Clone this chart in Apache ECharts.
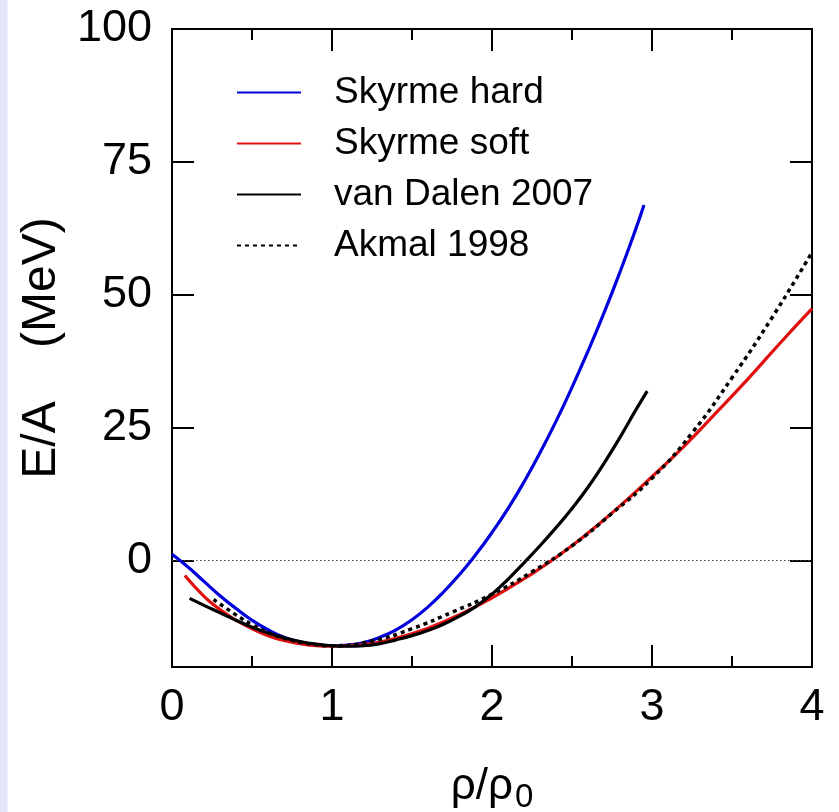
<!DOCTYPE html>
<html><head><meta charset="utf-8">
<script src="https://cdn.jsdelivr.net/npm/echarts@6/dist/echarts.min.js"></script>
<style>html,body{margin:0;padding:0;background:#fff}#c{width:839px;height:812px}</style>
</head><body><div id="c"></div>
<script>
const xTicks = [0, 1, 2, 3, 4];
const yTicks = [0, 25, 50, 75, 100];
const seriesNames = ['Skyrme hard', 'Skyrme soft', 'van Dalen 2007', 'Akmal 1998'];

const hardRho = [0,0.1,0.2,0.3,0.4,0.5,0.6,0.7,0.8,0.9,1.0,1.1,1.2,1.3,1.4,1.5,1.6,1.7,1.8,1.9,2.0,2.1,2.2,2.3,2.4,2.5,2.6,2.7,2.8,2.9,2.95];
const hardE   = [1.2,-1.2,-3.9,-6.6,-9.0,-11.2,-13.0,-14.4,-15.3,-15.8,-16.0,-15.9,-15.4,-14.4,-13.0,-11.1,-8.7,-5.8,-2.5,1.2,5.3,9.8,14.8,20.3,26.2,32.6,39.4,46.6,54.3,62.5,66.9];

const softRho = [0.08,0.2,0.3,0.4,0.5,0.6,0.7,0.8,0.9,1.0,1.2,1.4,1.6,1.8,2.0,2.2,2.4,2.6,2.8,3.0,3.2,3.4,3.6,3.8,4.0];
const softE   = [-2.8,-6.7,-9.2,-11.2,-12.8,-14.1,-15.0,-15.6,-16.0,-16.1,-15.8,-14.6,-12.7,-10.1,-7.0,-3.4,0.6,5.2,10.3,15.8,21.5,27.8,34.2,40.9,47.4];

const dalenRho = [0.11,0.2,0.3,0.4,0.5,0.6,0.7,0.8,0.9,1.0,1.1,1.2,1.3,1.4,1.5,1.6,1.7,1.8,1.9,2.0,2.1,2.2,2.3,2.4,2.5,2.6,2.7,2.8,2.9,2.97];
const dalenE   = [-7.1,-8.4,-9.8,-11.2,-12.5,-13.6,-14.5,-15.2,-15.7,-16.0,-16.1,-16.0,-15.6,-14.9,-14.1,-13.1,-11.9,-10.4,-8.6,-6.3,-3.5,-0.4,2.8,6.2,9.8,13.8,18.3,23.2,28.4,31.9];

const akmalRho = [0.26,0.4,0.5,0.6,0.75,0.9,1.0,1.25,1.5,1.75,2.0,2.25,2.5,2.75,3.0,3.25,3.5,3.75,4.0];
const akmalE   = [-7.3,-10.2,-12.0,-13.5,-15.0,-15.8,-16.0,-15.1,-12.8,-9.7,-6.3,-2.1,2.8,8.9,15.5,24.0,34.4,45.7,58.0];

function pairs(xs, ys) { return xs.map((x, i) => [x, ys[i]]); }

const FONT = '"Liberation Sans", Arial, Helvetica, sans-serif';
const chart = echarts.init(document.getElementById('c'), null, {renderer: 'canvas'});

const axisLine = {show: true, onZero: false, lineStyle: {color: '#000', width: 2}};
function xAx(pos, labels) {
  return {
    type: 'value', position: pos, min: 0, max: 4, interval: 1,
    axisLine: axisLine,
    axisTick: {show: true, inside: true, length: 22, lineStyle: {color: '#000', width: 2}},
    minorTick: {show: true, splitNumber: 2, length: 11, lineStyle: {color: '#000', width: 2}},
    splitLine: {show: false}, minorSplitLine: {show: false},
    axisLabel: {show: labels, margin: 18, fontSize: 45, color: '#000', fontFamily: FONT},
    name: labels ? '{a|ρ/ρ}{s|0}' : '',
    nameLocation: 'middle', nameGap: 92,
    nameTextStyle: {
      rich: {
        a: {fontSize: 44, fontFamily: FONT, color: '#000'},
        s: {fontSize: 33, fontFamily: FONT, color: '#000', padding: [22, 0, 0, 2]}
      }
    }
  };
}
function yAx(pos, labels) {
  return {
    type: 'value', position: pos, min: -20, max: 100,
    axisLine: axisLine,
    axisTick: {show: true, inside: true, length: 22, customValues: yTicks, lineStyle: {color: '#000', width: 2}},
    splitLine: {show: false},
    axisLabel: {show: labels, customValues: yTicks, margin: 20, fontSize: 45, color: '#000', fontFamily: FONT},
    name: labels ? 'E/A    (MeV)' : '',
    nameLocation: 'middle', nameGap: 106, nameRotate: 90,
    nameTextStyle: {fontSize: 48, fontFamily: FONT, color: '#000'}
  };
}

const lineBase = {type: 'line', smooth: true, symbol: 'none', showSymbol: false, clip: true, z: 3};

chart.setOption({
  backgroundColor: '#fff',
  animation: false,
  graphic: [{type: 'rect', left: 0, top: 0, shape: {width: 7.5, height: 812}, style: {fill: '#e6e6fa'}, silent: true}],
  grid: {left: 172, right: 27, top: 29, bottom: 145, containLabel: false, outerBoundsMode: 'none'},
  legend: {
    left: 236, top: 74, orient: 'vertical', padding: 0,
    itemWidth: 64, itemHeight: 3, itemGap: 14,
    itemStyle: {color: 'rgba(0,0,0,0)', borderWidth: 0},
    textStyle: {fontSize: 37, fontFamily: FONT, color: '#000', lineHeight: 30, padding: [0, 0, 0, 28]},
    data: seriesNames
  },
  xAxis: [xAx('bottom', true), xAx('top', false)],
  yAxis: [yAx('left', true), yAx('right', false)],
  series: [
    Object.assign({}, lineBase, {
      name: seriesNames[0], data: pairs(hardRho, hardE),
      lineStyle: {color: '#0000dd', width: 3.2}, itemStyle: {color: '#0000dd'},
      markLine: {silent: true, symbol: 'none', label: {show: false}, z: 1,
        lineStyle: {color: '#444', width: 1, type: [1.5, 2.5]}, data: [{yAxis: 0}]}
    }),
    Object.assign({}, lineBase, {
      name: seriesNames[1], data: pairs(softRho, softE),
      lineStyle: {color: '#e01010', width: 3.2}, itemStyle: {color: '#e01010'}
    }),
    Object.assign({}, lineBase, {
      name: seriesNames[2], data: pairs(dalenRho, dalenE),
      lineStyle: {color: '#000', width: 3.2}, itemStyle: {color: '#000'}
    }),
    Object.assign({}, lineBase, {
      name: seriesNames[3], data: pairs(akmalRho, akmalE),
      lineStyle: {color: '#000', width: 3.5, type: [4, 4]}, itemStyle: {color: '#000'}
    })
  ]
});
</script>
</body></html>
